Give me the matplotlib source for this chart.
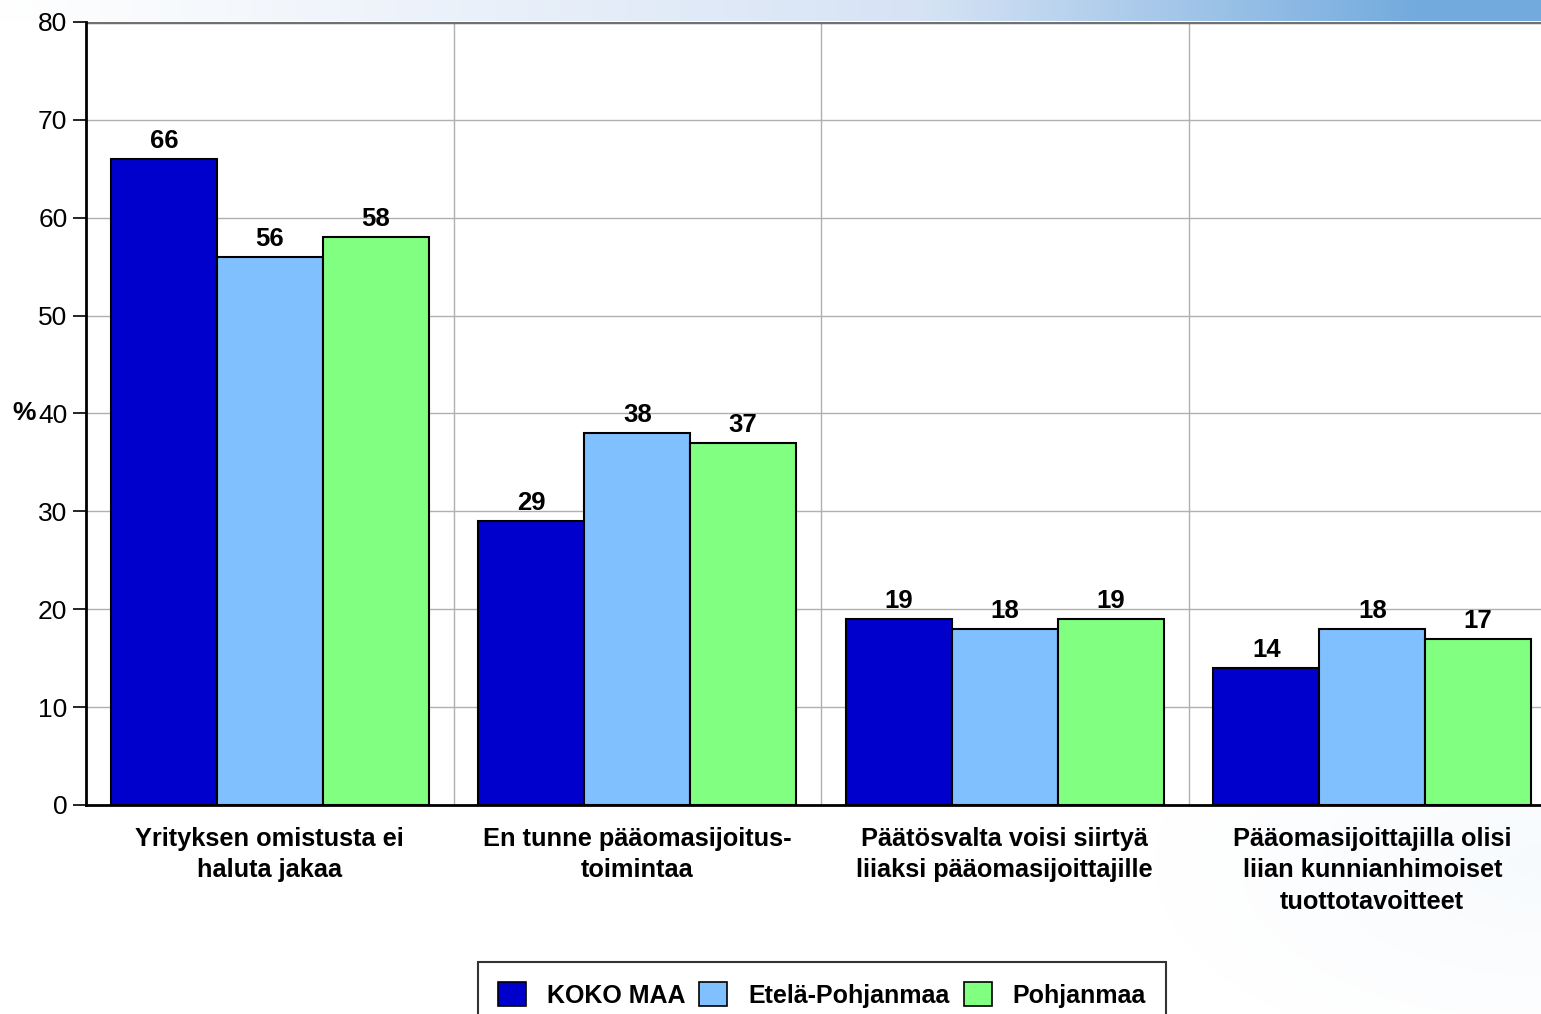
import numpy as np
import matplotlib
matplotlib.use('Agg')
import matplotlib.pyplot as plt
from matplotlib.patches import Patch
from matplotlib.transforms import blended_transform_factory

plt.rcParams['font.family'] = ['Liberation Sans', 'DejaVu Sans']

categories = ['Yrityksen omistusta ei\nhaluta jakaa',
              'En tunne pääomasijoitus-\ntoimintaa',
              'Päätösvalta voisi siirtyä\nliiaksi pääomasijoittajille',
              'Pääomasijoittajilla olisi\nliian kunnianhimoiset\ntuottotavoitteet']
series = ['KOKO MAA', 'Etelä-Pohjanmaa', 'Pohjanmaa']
koko_maa = [66, 29, 19, 14]
etela_pohjanmaa = [56, 38, 18, 18]
pohjanmaa = [58, 37, 19, 17]
colors = ['#0000CC', '#80C0FF', '#80FF80']

W, H = 1541, 1014
fig = plt.figure(figsize=(W / 100, H / 100), dpi=100)

# slide background: blue band at top right, faint glow bottom right
bg = fig.add_axes([0, 0, 1, 1], zorder=-10)
xx, yy = np.meshgrid(np.linspace(0, 1, W), np.linspace(0, 1, H))
img = np.ones((H, W, 3))
band = (yy < 21 / H)
t = np.clip((xx - 0.6) / 0.32, 0, 1)
blue = np.array([0.45, 0.67, 0.87])
light = np.array([0.84, 0.89, 0.96])
edge = light[None, None, :] * (1 - t[..., None]) + blue[None, None, :] * t[..., None]
fade_left = np.clip(xx / 0.6, 0, 1)[..., None]
edge = np.ones(3) * (1 - fade_left) + edge * fade_left
img[band] = edge[band]
glow = np.clip(1 - np.hypot((xx - 1.0) / 0.25, (yy - 0.85) / 0.2), 0, 1) * 0.12
img = img - glow[..., None] * (1 - np.array([0.75, 0.85, 0.95]))
bg.imshow(img, aspect='auto', extent=[0, 1, 0, 1], origin='upper')
bg.axis('off')

ax = fig.add_axes([86 / W, 1 - 805 / H, (4 * 367.5) / W, (805 - 22) / H])
ax.set_facecolor('white')

x = np.arange(len(categories)) + 0.5
bw = 0.288
for i, (vals, c) in enumerate(zip([koko_maa, etela_pohjanmaa, pohjanmaa], colors)):
    pos = x + (i - 1) * bw
    ax.bar(pos, vals, width=bw, color=c, edgecolor='black', linewidth=1.5,
           label=series[i], zorder=3)
    for p, v in zip(pos, vals):
        ax.text(p, v + 0.6, str(v), ha='center', va='bottom', fontsize=18.5,
                fontweight='bold', zorder=4)

ax.set_xlim(0, 4)
ax.set_ylim(0, 80)
ax.set_yticks(range(0, 81, 10))
ax.set_yticklabels([str(v) for v in range(0, 81, 10)], fontsize=19)
ax.set_xticks([1, 2, 3], minor=False)
ax.set_xticklabels([])
ax.tick_params(axis='x', length=0)
ax.tick_params(axis='y', length=9.4, width=1.2, direction='out', pad=4)
ax.grid(True, color='#b0b0b0', linewidth=1, zorder=0)
ax.axhline(80, color='#707070', linewidth=2.5, zorder=2)

for s in ['top', 'right']:
    ax.spines[s].set_visible(False)
ax.spines['left'].set_linewidth(2)
ax.spines['bottom'].set_linewidth(2)

for xc, lab in zip(x, categories):
    ax.text(xc, -2.2, lab, ha='center', va='top', fontsize=18.3,
            fontweight='bold', linespacing=1.4)

trans = blended_transform_factory(fig.transFigure, ax.transData)
ax.text(36 / W, 40, '%', ha='right', va='center', fontsize=19,
        fontweight='bold', transform=trans)

handles = [Patch(facecolor=c, edgecolor='black', linewidth=1.2) for c in colors]
leg = fig.legend(handles, series, loc='upper center',
                 bbox_to_anchor=(822 / W, 1 - 962 / H), borderaxespad=0,
                 ncol=3, frameon=True, fancybox=False,
                 prop={'weight': 'bold', 'size': 18}, handlelength=1.12,
                 handleheight=1.12, columnspacing=0.55, handletextpad=0.85,
                 borderpad=0.8)
leg.get_frame().set_edgecolor('black')
leg.get_frame().set_linewidth(1.5)

fig.savefig('out.png', dpi=100)
